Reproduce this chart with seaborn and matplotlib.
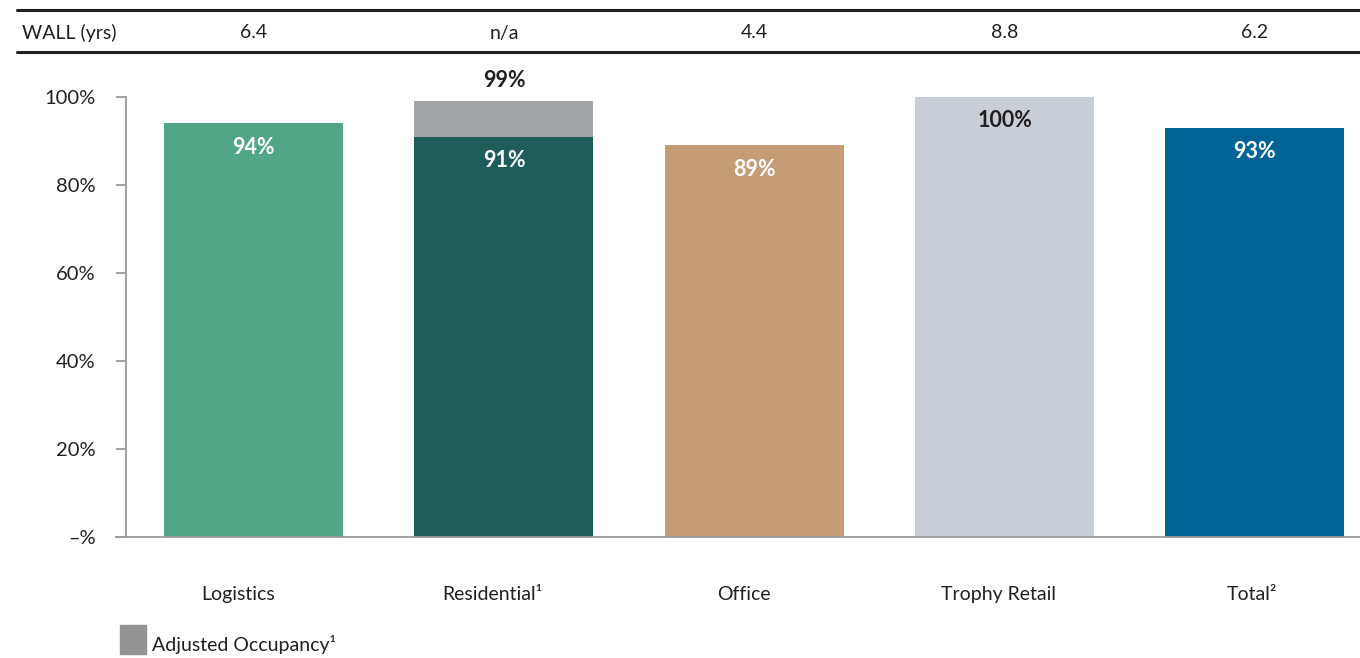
import matplotlib
matplotlib.use("Agg")
import matplotlib.pyplot as plt
import matplotlib.transforms as mtransforms
from matplotlib.patches import Rectangle
import seaborn as sns
import pandas as pd

# Occupancy by sector
categories = ["Logistics", "Residential", "Office", "Trophy Retail", "Total"]
tick_labels = ["Logistics", "Residential¹", "Office", "Trophy Retail", "Total²"]
occupancy = [94, 91, 89, 100, 93]
adjusted_category = ["Residential"]
adjusted_occupancy = [99]
wall_years = ["6.4", "n/a", "4.4", "8.8", "6.2"]

bar_colors = ["#52a688", "#1d5e5a", "#c49c76", "#c9ced6", "#006394"]
label_colors = ["white", "white", "white", "#231f20", "white"]
adjusted_color = "#a3a4a8"
text_color = "#231f20"

sns.set_theme(style="white")
plt.rcParams["font.family"] = ["Lato", "DejaVu Sans"]

fig = plt.figure(figsize=(13.6, 6.58), dpi=100)
ax = fig.add_axes([126 / 1360, 1 - 537 / 658, 1 - 126 / 1360, (537 - 97) / 658])

df = pd.DataFrame({"sector": categories, "occ": occupancy})
df_adj = pd.DataFrame({"sector": adjusted_category, "occ": adjusted_occupancy})

# Adjusted occupancy behind, reported occupancy in front
sns.barplot(data=df_adj, x="sector", y="occ", order=categories, color=adjusted_color,
            width=0.715, saturation=1, linewidth=0, ax=ax, zorder=2)
sns.barplot(data=df, x="sector", y="occ", order=categories, hue="sector",
            palette=bar_colors, width=0.715, saturation=1, linewidth=0,
            legend=False, ax=ax, zorder=3)

ax.set_xlim(-0.51, 4.42)
ax.set_ylim(0, 100)
ax.set_xlabel("")
ax.set_ylabel("")

ax.set_yticks([0, 20, 40, 60, 80, 100])
ax.set_yticklabels(["–%", "20%", "40%", "60%", "80%", "100%"], fontsize=14.5,
                   color=text_color)
ax.tick_params(axis="y", length=7, width=1.3, color="#9a9a9a", pad=15, left=True)
ax.set_xticks(range(len(categories)))
ax.set_xticklabels(tick_labels, fontsize=14, color=text_color)
ax.tick_params(axis="x", length=0, pad=35)

# category names sit slightly left of the bar centres
label_shift_px = [-16, -12, -10, -6, -3]
for lbl, dx in zip(ax.get_xticklabels(), label_shift_px):
    lbl.set_transform(lbl.get_transform() +
                      mtransforms.ScaledTranslation(dx / 100, 0, fig.dpi_scale_trans))

for s in ["top", "right"]:
    ax.spines[s].set_visible(False)
for s in ["left", "bottom"]:
    ax.spines[s].set_color("#9a9a9a")
    ax.spines[s].set_linewidth(1.3)
ax.spines["bottom"].set_bounds(-0.55, 4.42)
ax.spines["bottom"].set_clip_on(False)
ax.spines["bottom"].set_zorder(5)

# Value labels
for i, (v, c) in enumerate(zip(occupancy, label_colors)):
    ax.text(i, v - 5.4, f"{v}%", ha="center", va="center", fontsize=15.5,
            fontweight="bold", color=c, zorder=6)
for cat, v in zip(adjusted_category, adjusted_occupancy):
    i = categories.index(cat)
    ax.text(i, v + 4.8, f"{v}%", ha="center", va="center", fontsize=15.5,
            fontweight="bold", color=text_color, zorder=6, clip_on=False)

# WALL row above the chart
fig.add_artist(plt.Line2D([17 / 1360, 1], [1 - 10 / 658] * 2, color=text_color, lw=2.2))
fig.add_artist(plt.Line2D([17 / 1360, 1], [1 - 52 / 658] * 2, color=text_color, lw=2.2))
fig.text(22 / 1360, 1 - 33 / 658, "WALL (yrs)", ha="left", va="center", fontsize=14,
         color=text_color)
for i, w in enumerate(wall_years):
    xd = ax.transData.transform((i, 0))[0]
    xf = fig.transFigure.inverted().transform((xd, 0))[0]
    fig.text(xf, 1 - 33 / 658, w, ha="center", va="center", fontsize=14,
             color=text_color)

# Legend
fig.add_artist(Rectangle((120 / 1360, 1 - 654 / 658), 26 / 1360, 29 / 658,
                         transform=fig.transFigure, color="#939393"))
fig.text(152 / 1360, 1 - 644 / 658, "Adjusted Occupancy¹", ha="left", va="center",
         fontsize=14, color=text_color)

fig.savefig("out.png", dpi=100)
